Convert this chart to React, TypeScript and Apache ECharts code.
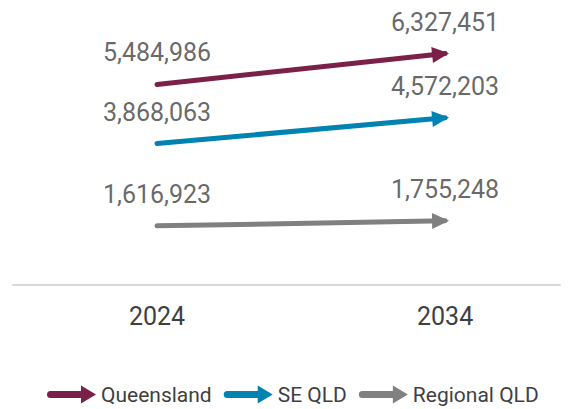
import React, { useEffect, useRef } from "react";
import * as echarts from "echarts";

const years = ["2024", "2034"];
const regions = ["Queensland", "SE QLD", "Regional QLD"];
const values2024 = [5484986, 3868063, 1616923];
const values2034 = [6327451, 4572203, 1755248];
const colors = ["#7B2049", "#0083B1", "#808080"];

const FONT = "Roboto, sans-serif";
const TEXT = "#3F3F3F";

const ARROW =
  "path://M0,0 L0.01,0 L0,0.01 Z M34,34 L33.99,34 L34,33.99 Z M17,13 L25,30 L9,30 Z";
const LEGEND_ICON =
  "path://M3.5,5.5 L34,5.5 L34,0 L49,9 L34,18 L34,12.5 L3.5,12.5 A3.5,3.5 0 0 1 3.5,5.5 Z";

export default function App() {
  const ref = useRef<HTMLDivElement>(null);
  useEffect(() => {
    document.body.style.margin = "0";
    if (!ref.current) return;
    const chart = echarts.init(ref.current, null, { renderer: "svg" });
    const series: any[] = [];
    regions.forEach((name, i) => {
      series.push({
        name,
        type: "lines",
        coordinateSystem: "cartesian2d",
        symbol: ["none", ARROW],
        symbolSize: 34,
        lineStyle: { color: colors[i], width: 5, cap: "round", opacity: 1 },
        itemStyle: { color: colors[i] },
        data: [
          {
            coords: [
              [0, values2024[i]],
              [1, values2034[i]],
            ],
          },
        ],
        z: 2,
      });
    });
    series.push({
      name: "labels",
      type: "scatter",
      symbolSize: 0,
      data: regions.flatMap((_, i) => [
        [0, values2024[i]],
        [1, values2034[i]],
      ]),
      label: {
        show: true,
        position: "top",
        distance: 19,
        color: TEXT,
        fontSize: 25,
        fontFamily: FONT,
        formatter: (p: any) => Number(p.value[1]).toLocaleString("en-US"),
      },
      z: 3,
    });
    chart.setOption({
      animation: false,
      grid: { left: 13, right: 13, top: 29, bottom: 124, containLabel: false },
      xAxis: {
        type: "value",
        min: -0.5,
        max: 1.399,
        interval: 0.5,
        axisLine: { show: true, onZero: false, lineStyle: { color: "#D9D9D9", width: 2 } },
        axisTick: { show: false },
        splitLine: { show: false },
        axisLabel: {
          margin: 19,
          color: TEXT,
          fontSize: 25,
          fontFamily: FONT,
          showMinLabel: true,
          showMaxLabel: false,
          formatter: (v: number) => (v === 0 ? years[0] : v === 1 ? years[1] : ""),
        },
      },
      yAxis: { type: "value", min: 0, max: 7000000, show: false, splitLine: { show: false } },
      legend: {
        left: 47,
        top: 384,
        padding: 0,
        itemWidth: 49,
        itemHeight: 18,
        itemGap: 12,
        textStyle: { color: TEXT, fontSize: 21, fontFamily: FONT },
        data: regions.map((name, i) => ({
          name,
          icon: LEGEND_ICON,
          itemStyle: { color: colors[i], borderWidth: 0 },
        })),
      },
      series,
    });
    return () => chart.dispose();
  }, []);
  return <div ref={ref} style={{ width: 573, height: 409 }} />;
}
